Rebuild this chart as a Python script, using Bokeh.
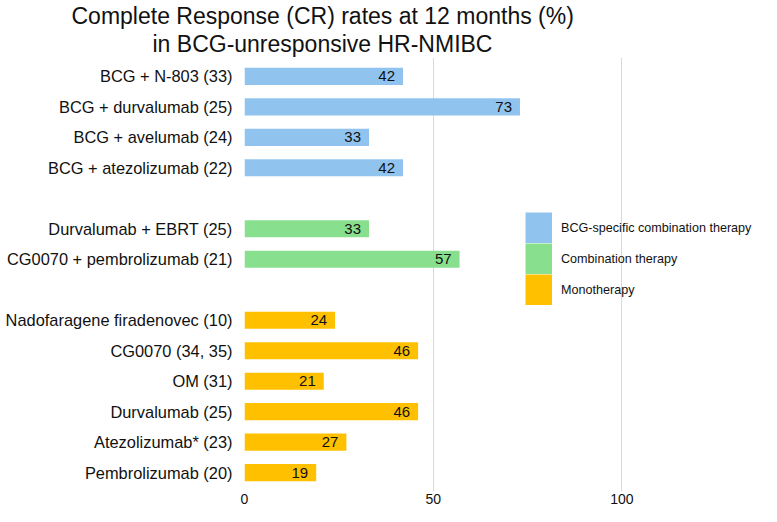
from bokeh.plotting import figure
from bokeh.models import ColumnDataSource, FactorRange, Range1d, FixedTicker, Title, Legend, LegendItem
from bokeh.core.properties import value
from bokeh.embed import file_html
from bokeh.resources import INLINE

# ---- data ----
groups = ["BCG-specific combination therapy", "Combination therapy", "Monotherapy"]
colors = ["#90c4ef", "#88e08f", "#ffc000"]

bcg_labels = ["BCG + N-803 (33)", "BCG + durvalumab (25)", "BCG + avelumab (24)", "BCG + atezolizumab (22)"]
bcg_values = [42, 73, 33, 42]

combo_labels = ["Durvalumab + EBRT (25)", "CG0070 + pembrolizumab (21)"]
combo_values = [33, 57]

mono_labels = ["Nadofaragene firadenovec (10)", "CG0070 (34, 35)", "OM (31)",
               "Durvalumab (25)", "Atezolizumab* (23)", "Pembrolizumab (20)"]
mono_values = [24, 46, 21, 46, 27, 19]

x_ticks = [0, 50, 100]
title_lines = ["Complete Response (CR) rates at 12 months (%)", "in BCG-unresponsive HR-NMIBC"]

# factor order (top to bottom) with blank spacer rows between groups
spacer1, spacer2 = " ", "  "
factors_top_down = bcg_labels + [spacer1] + combo_labels + [spacer2] + mono_labels
factors = list(reversed(factors_top_down))

FONT = "Liberation Sans"

p = figure(width=761, height=506, output_backend="svg", toolbar_location=None,
           y_range=FactorRange(factors=factors, range_padding=0.12, range_padding_units="absolute"),
           x_range=Range1d(0, 137),
           min_border_left=244, min_border_right=0, min_border_top=0, min_border_bottom=0)

for labels, vals, col in [(bcg_labels, bcg_values, colors[0]),
                          (combo_labels, combo_values, colors[1]),
                          (mono_labels, mono_values, colors[2])]:
    src = ColumnDataSource(dict(y=labels, x=vals, t=[str(v) for v in vals]))
    p.hbar(y="y", right="x", left=0, height=0.56, source=src,
           fill_color=col, line_color=None)
    p.text(x="x", y="y", text="t", source=src, x_offset=-8,
           text_align="right", text_baseline="middle",
           text_font=value(FONT), text_font_size="15px", text_color="#111111")

# legend swatches: invisible (NaN) line renderers drawn in the legend as thick butt-capped strokes
legend_renderers = []
for col in colors:
    lr = p.line(x=[float("nan")], y=[float("nan")], line_color=col, line_width=31, line_cap="butt")
    legend_renderers.append(lr)

# titles (line nearest the plot added first)
t2 = Title(text=title_lines[1], align="left", offset=-92, standoff=1,
           text_font=FONT, text_font_size="23px", text_font_style="normal", text_color="#111111")
t1 = Title(text=title_lines[0], align="left", offset=-173, standoff=0,
           text_font=FONT, text_font_size="23px", text_font_style="normal", text_color="#111111")
p.add_layout(t2, "above")
p.add_layout(t1, "above")

# axes
for ax in (p.xaxis, p.yaxis):
    ax.axis_label = None
    ax.axis_line_color = None
    ax.major_tick_line_color = None
    ax.minor_tick_line_color = None
    ax.major_tick_out = 0
    ax.major_tick_in = 0
    ax.minor_tick_out = 0
    ax.minor_tick_in = 0
    ax.axis_label_standoff = 0
    ax.major_label_text_font = FONT
    ax.major_label_text_color = "#111111"

p.xaxis.ticker = FixedTicker(ticks=x_ticks)
p.xaxis.major_label_text_font_size = "14px"
p.xaxis.major_label_standoff = 2

p.yaxis.major_label_text_font_size = "16.4px"
p.yaxis.major_label_standoff = 12

p.xgrid.ticker = FixedTicker(ticks=x_ticks)
p.xgrid.grid_line_color = "#d9d9d9"
p.ygrid.grid_line_color = None
p.outline_line_color = None

legend = Legend(items=[LegendItem(label=g, renderers=[r]) for g, r in zip(groups, legend_renderers)],
                location=(281, 186), orientation="vertical",
                glyph_width=27, glyph_height=31, spacing=0, padding=0, margin=0,
                label_standoff=9, label_text_font=FONT, label_text_font_size="12.6px",
                label_height=31, label_text_color="#111111",
                border_line_color=None, background_fill_alpha=0)
p.add_layout(legend, "center")

open("out.html", "w").write(file_html(p, INLINE))
